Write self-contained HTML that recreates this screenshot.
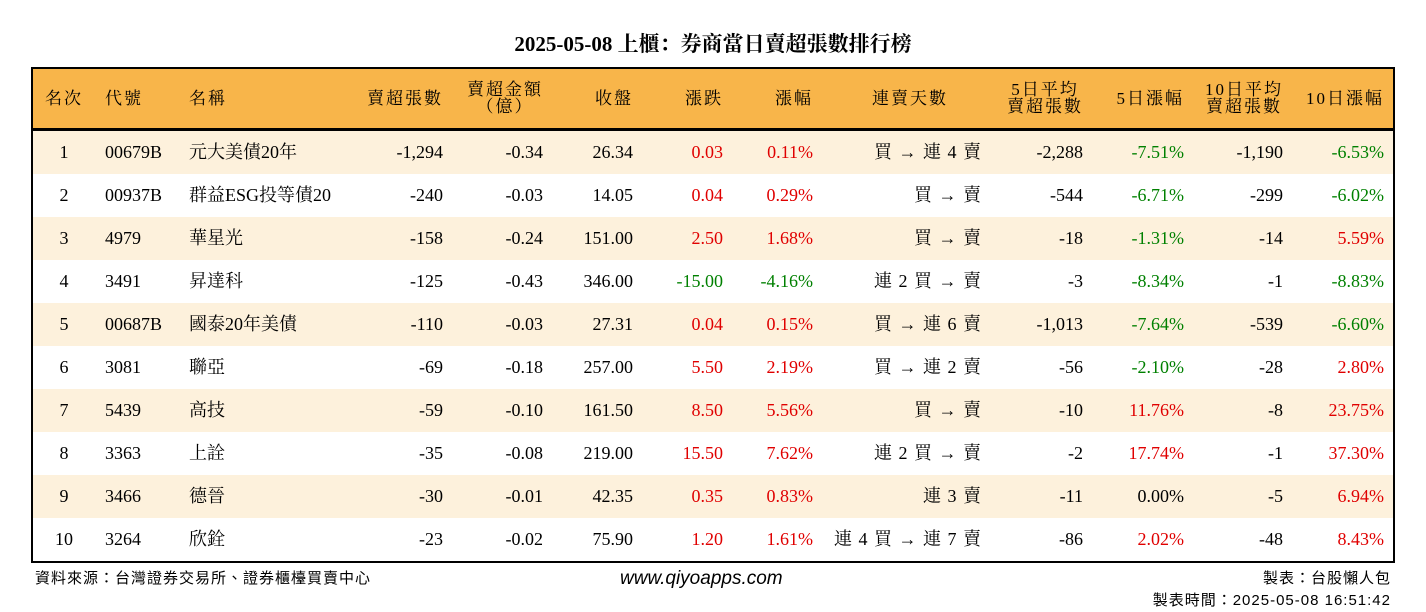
<!DOCTYPE html>
<html><head><meta charset="utf-8"><style>
body{margin:0;width:1426px;height:612px;background:#fff;font-family:"Liberation Serif","Noto Serif CJK SC","Noto Sans CJK TC",serif;color:#000;position:relative;overflow:hidden}
.title{position:absolute;top:28px;left:0;width:1426px;text-align:center;font-size:21px;font-weight:bold}
.box{position:absolute;left:31px;top:67px;width:1360px;height:492px;border:2px solid #000;overflow:hidden}
.hdr{position:absolute;left:0;top:0;width:1360px;height:59px;background:#F8B54A;border-bottom:3px solid #000}
.row{position:absolute;left:0;width:1360px;height:43px}
.c{position:absolute;font-size:18px;line-height:20px;white-space:nowrap}
.h{font-size:17px;line-height:17px;text-align:center;letter-spacing:2px}
.r{color:#e00000}.g{color:#008000}
.foot{position:absolute;font-family:"Liberation Sans","Noto Sans CJK TC",sans-serif;font-size:15px;letter-spacing:1px}
</style></head><body>
<div class="title">2025-05-08 上櫃：券商當日賣超張數排行榜</div>
<div class="box">
<div class="hdr"></div>
</div>
<div class="foot" style="left:35px;top:567px">資料來源：台灣證券交易所、證券櫃檯買賣中心</div>
<div class="foot" style="left:620px;top:568px;font-style:italic;font-size:19px;letter-spacing:0">www.qiyoapps.com</div>
<div class="foot" style="right:35px;top:567px">製表：台股懶人包</div>
<div class="foot" style="right:35px;top:589px">製表時間：2025-05-08 16:51:42</div>
<script>
const codes=["00679B","00937B","4979","3491","00687B","3081","5439","3363","3466","3264"];
const names=["元大美債20年","群益ESG投等債20","華星光","昇達科","國泰20年美債","聯亞","高技","上詮","德晉","欣銓"];
const netSell=["-1,294","-240","-158","-125","-110","-69","-59","-35","-30","-23"];
const amount=["-0.34","-0.03","-0.24","-0.43","-0.03","-0.18","-0.10","-0.08","-0.01","-0.02"];
const closeP=["26.34","14.05","151.00","346.00","27.31","257.00","161.50","219.00","42.35","75.90"];
const change=["0.03","0.04","2.50","-15.00","0.04","5.50","8.50","15.50","0.35","1.20"];
const pct=["0.11%","0.29%","1.68%","-4.16%","0.15%","2.19%","5.56%","7.62%","0.83%","1.61%"];
const streak=["買 → 連 4 賣","買 → 賣","買 → 賣","連 2 買 → 賣","買 → 連 6 賣","買 → 連 2 賣","買 → 賣","連 2 買 → 賣","連 3 賣","連 4 買 → 連 7 賣"];
const avg5=["-2,288","-544","-18","-3","-1,013","-56","-10","-2","-11","-86"];
const pct5=["-7.51%","-6.71%","-1.31%","-8.34%","-7.64%","-2.10%","11.76%","17.74%","0.00%","2.02%"];
const avg10=["-1,190","-299","-14","-1","-539","-28","-8","-1","-5","-48"];
const pct10=["-6.53%","-6.02%","5.59%","-8.83%","-6.60%","2.80%","23.75%","37.30%","6.94%","8.43%"];
const headers=[["名次",31,"c"],["代號",72,"l"],["名稱",156,"l"],["賣超張數",410,"r"],["賣超金額<br>（億）",510,"r"],["收盤",600,"r"],["漲跌",690,"r"],["漲幅",780,"r"],["連賣天數",915,"r"],["5日平均<br>賣超張數",1050,"r"],["5日漲幅",1151,"r"],["10日平均<br>賣超張數",1250,"r"],["10日漲幅",1351,"r"]];
const box=document.querySelector('.box');
function place(parent,html,x,y,align,cls,name){
  const d=document.createElement('div');
  d.className='c '+(cls||'');
  d.innerHTML=html;
  
  
  d.style.top=y+'px';
  if(align==='r'){d.style.right=(1360-x)+'px';}
  else if(align==='c'){d.style.left=(x-30)+'px';d.style.width='60px';d.style.textAlign='center';}
  else d.style.left=x+'px';
  parent.appendChild(d);return d;
}
const hdr=document.querySelector('.hdr');
headers.forEach(h=>{
  const two=h[0].includes('<br>');
  const d=place(hdr,h[0],h[1],two?12:21,h[2],'h','header-cell');
  if(two)d.style.textAlign='center';
});
function col(v){return v.startsWith('-')?'g':(parseFloat(v)===0?'':'r');}
for(let i=0;i<codes.length;i++){
  const row=document.createElement('div');
  row.className='row';
  
  
  row.style.top=(62+i*43)+'px';
  row.style.background=i%2===0?'#FDF1DC':'#fff';
  box.appendChild(row);
  const y=11;
  place(row,String(i+1),31,y,'c','','rank');
  place(row,codes[i],72,y,'l','','code');
  place(row,names[i],156,y,'l','','name');
  place(row,netSell[i],410,y,'r','','net-sell');
  place(row,amount[i],510,y,'r','','amount');
  place(row,closeP[i],600,y,'r','','close');
  place(row,change[i],690,y,'r',col(change[i]),'change');
  place(row,pct[i],780,y,'r',col(pct[i]),'change-pct');
  const s=place(row,streak[i],949,y,'r','','streak');
  s.style.letterSpacing='1px';
  place(row,avg5[i],1050,y,'r','','avg5');
  place(row,pct5[i],1151,y,'r',col(pct5[i]),'pct5');
  place(row,avg10[i],1250,y,'r','','avg10');
  place(row,pct10[i],1351,y,'r',col(pct10[i]),'pct10');
}
</script>
</body></html>
